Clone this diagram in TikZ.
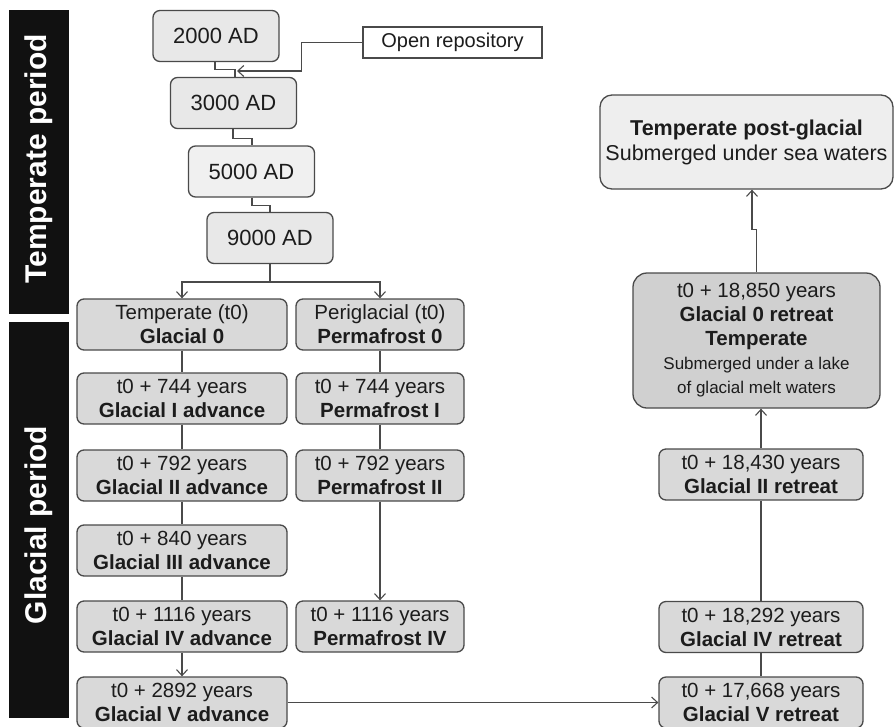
\documentclass[tikz,border=0pt]{standalone}
\usepackage{fontspec}
\setmainfont{Liberation Sans}
\usetikzlibrary{arrows.meta}
\definecolor{edge}{HTML}{4A4A4A}
\definecolor{ink}{HTML}{1C1C1C}
\definecolor{fillA}{HTML}{E8E8E8}
\definecolor{fillB}{HTML}{F0F0F0}
\definecolor{fillG}{HTML}{D9D9D9}
\definecolor{fillR}{HTML}{D0D0D0}
\definecolor{fillP}{HTML}{EEEEEE}
\definecolor{bar}{HTML}{111111}
\tikzset{
  box/.style={draw=edge, line width=1.3pt, rounded corners=7pt, inner sep=0pt, align=center, text=ink},
  adbox/.style={box, fill=fillA, minimum width=126pt, minimum height=51pt, font=\fontsize{22}{26}\selectfont},
  gbox/.style={box, fill=fillG, minimum height=51pt, font=\fontsize{20.5}{24}\selectfont},
  lbox/.style={gbox, minimum width=210pt},
  rbox/.style={gbox, minimum width=168pt},
  xbox/.style={gbox, minimum width=204pt},
  conn/.style={draw=edge, line width=1.2pt},
  arr/.style={conn, -{Straight Barb[length=6pt,width=11pt,line width=1.1pt]}},
  sidebar/.style={fill=bar, inner sep=0pt}
}
\begin{document}
\begin{tikzpicture}[x=1pt,y=-1pt]
\useasboundingbox (0,0) rectangle (894,726);
\clip (0,0) rectangle (894,726);
\fill[white] (0,0) rectangle (894,726);

% side bars
\node[sidebar, minimum width=60pt, minimum height=304pt] (tbar) at (39,162) {};
\node[white, font=\bfseries\fontsize{30}{34}\selectfont, rotate=90] (tlab) at (39,159) {Temperate period};
\node[sidebar, minimum width=60pt, minimum height=396pt] (gbar) at (39,520) {};
\node[white, font=\bfseries\fontsize{30}{34}\selectfont, rotate=90] (glab) at (39,525) {Glacial period};

% AD boxes
\node[adbox] (a2000) at (216,36) {2000 AD};
\node[adbox] (a3000) at (233.5,103) {3000 AD};
\node[adbox, fill=fillB] (a5000) at (251.5,171.5) {5000 AD};
\node[adbox] (a9000) at (270,238) {9000 AD};
\node[draw=edge, line width=1.3pt, fill=white, minimum width=179pt, minimum height=31pt, inner sep=0pt, text=ink, font=\fontsize{20}{24}\selectfont] (open) at (452.5,42.5) {Open repository};

% left column
\node[lbox] (l0) at (182,324.5) {Temperate (t0)\\\textbf{Glacial 0}};
\node[lbox] (l1) at (182,398.5) {t0 + 744 years\\\textbf{Glacial I advance}};
\node[lbox] (l2) at (182,475.5) {t0 + 792 years\\\textbf{Glacial II advance}};
\node[lbox] (l3) at (182,550.5) {t0 + 840 years\\\textbf{Glacial III advance}};
\node[lbox] (l4) at (182,626.5) {t0 + 1116 years\\\textbf{Glacial IV advance}};
\node[lbox] (l5) at (182,702.5) {t0 + 2892 years\\\textbf{Glacial V advance}};

% middle column
\node[rbox] (p0) at (380,324.5) {Periglacial (t0)\\\textbf{Permafrost 0}};
\node[rbox] (p1) at (380,398.5) {t0 + 744 years\\\textbf{Permafrost I}};
\node[rbox] (p2) at (380,475.5) {t0 + 792 years\\\textbf{Permafrost II}};
\node[rbox] (p4) at (380,626.5) {t0 + 1116 years\\\textbf{Permafrost IV}};

% right column
\node[xbox] (r2) at (761,474.5) {t0 + 18,430 years\\\textbf{Glacial II retreat}};
\node[xbox] (r4) at (761,627) {t0 + 18,292 years\\\textbf{Glacial IV retreat}};
\node[xbox] (r5) at (761,702.5) {t0 + 17,668 years\\\textbf{Glacial V retreat}};
\node[gbox, fill=fillR, rounded corners=14pt, minimum width=247pt, minimum height=135pt] (r0) at (756.5,340.5)
  {t0 + 18,850 years\\\textbf{Glacial 0 retreat}\\\textbf{Temperate}\\{\fontsize{17}{20}\selectfont Submerged under a lake}\\{\fontsize{17}{20}\selectfont of glacial melt waters}};
\node[box, fill=fillP, rounded corners=12pt, minimum width=293pt, minimum height=94pt, font=\fontsize{21.5}{25}\selectfont] (post) at (746.5,142)
  {\textbf{Temperate post-glacial}\\Submerged under sea waters};

% connectors top
\coordinate (rp) at (237,71);
\draw[conn] (a2000.south -| 215,0) -- ++(0,7) -| ([xshift=1.5pt]a3000.north);
\draw[arr] (open.west) -- ++(-61,0) |- (rp);
\draw[conn] ([xshift=-0.5pt]a3000.north |- a3000.south) -- ++(0,9) -| ([xshift=0.5pt]a5000.north);
\draw[conn] ([xshift=0.5pt]a5000.south) -- ++(0,8) -| (a9000.north);

\coordinate (split) at (270,282);
\draw[conn] (a9000.south) -- (split);
\draw[arr] (split) -| (l0.north);
\draw[arr] (split) -| (p0.north);

% left column links
\draw[conn] (l0) -- (l1);
\draw[conn] (l1) -- (l2);
\draw[conn] (l2) -- (l3);
\draw[conn] (l3) -- (l4);
\draw[arr] (l4.south) -- (l5.north);

% middle column links
\draw[conn] (p0) -- (p1);
\draw[conn] (p1) -- (p2);
\draw[arr] (p2.south) -- (p4.north);

% cross and right column
\draw[arr] (l5.east) -- (r5.west);
\draw[conn] (r5) -- (r4);
\draw[conn] (r4) -- (r2);
\draw[arr] (r2.north) -- (r0.south -| r2.north);
\draw[arr] (r0.north) -- ++(0,-43) -| ([xshift=5.5pt]post.south);
\end{tikzpicture}
\end{document}
